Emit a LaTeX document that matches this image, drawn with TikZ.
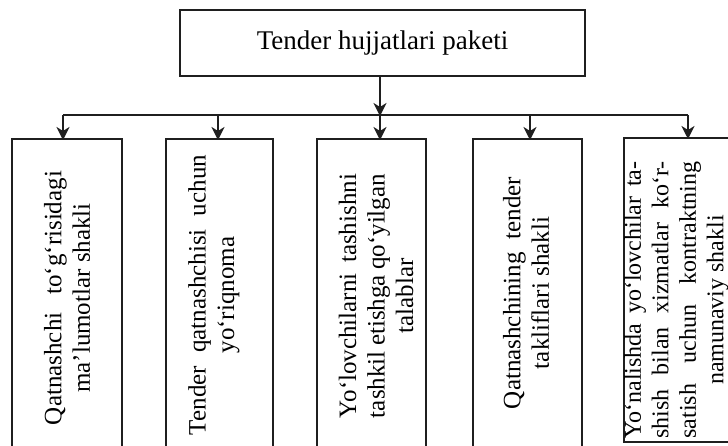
\documentclass[tikz,border=0pt]{standalone}
\usepackage{fontspec}
\setmainfont{Liberation Serif}
\usetikzlibrary{arrows.meta}
\tikzset{
  box/.style={draw=black!88, line width=2.6pt, inner sep=0pt, outer sep=0pt},
  conn/.style={draw=black!88, line width=2.2pt},
  arr/.style={conn, -{Stealth[length=13pt,width=13pt,inset=4pt]}, shorten >=-1pt},
  vtext/.style={rotate=90, align=center, inner sep=0pt, font=\fontsize{25pt}{28.5pt}\selectfont},
}
\newcommand{\jl}[2]{\makebox[#1pt][s]{#2}}
\begin{document}
\begin{tikzpicture}[x=1pt,y=-1pt]
\useasboundingbox (0,0) rectangle (728,445);
% top box
\node[box, minimum width=405pt, minimum height=66pt, font=\fontsize{27pt}{31pt}\selectfont] (top) at (382.5,43) {Tender hujjatlari paketi};
% lower boxes
\node[box, minimum width=110pt, minimum height=316pt, anchor=north west] (b1) at (12,139) {};
\node[box, minimum width=107pt, minimum height=316pt, anchor=north west] (b2) at (166,139) {};
\node[box, minimum width=109pt, minimum height=316pt, anchor=north west] (b3) at (317,139) {};
\node[box, minimum width=109pt, minimum height=316pt, anchor=north west] (b4) at (473,139) {};
\node[box, minimum width=108pt, minimum height=304pt, anchor=north west] (b5) at (624,138) {};
% texts
\node[vtext] (t1) at (67,298) {\jl{254}{Qatnashchi to‘g‘risidagi}\\ma’lumotlar shakli};
\node[vtext] (t2) at (214,295) {\jl{280}{Tender qatnashchisi uchun}\\yo‘riqnoma};
\node[vtext] (t3) at (376,296) {\jl{244}{Yo‘lovchilarni tashishni}\\\jl{244}{tashkil etishga qo‘yilgan}\\talablar};
\node[vtext] (t4) at (526,293) {\jl{232}{Qatnashchining tender}\\takliflari shakli};
\node[vtext, font=\fontsize{24pt}{27.5pt}\selectfont] (t5) at (676.5,300) {\jl{277}{Yo‘nalishda yo‘lovchilar ta-}\\\jl{277}{shish bilan xizmatlar ko‘r-}\\\jl{277}{satish uchun kontraktning}\\namunaviy shakli};
% connectors
\coordinate (hub) at (380,115);
\coordinate (hl) at (63,115);
\coordinate (hr) at (688,115);
\draw[conn] (hl) -- (hr);
\draw[arr] (top.south -| hub) -- (hub);
\draw[arr] (hl) -- (hl |- b1.north);
\draw[arr] (218,115) -- (218,139);
\draw[arr] (hub) -- (hub |- b3.north);
\draw[arr] (530,115) -- (530,139);
\draw[arr] (hr) -- (hr |- b5.north);
\end{tikzpicture}
\end{document}
